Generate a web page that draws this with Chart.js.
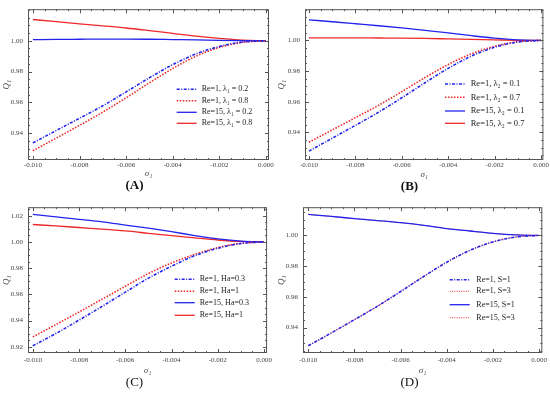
<!DOCTYPE html>
<html>
<head>
<meta charset="utf-8">
<script src="https://cdn.jsdelivr.net/npm/chart.js@4.4.1/dist/chart.umd.min.js"></script>
<style>
  body { margin: 0; background: #fff; }
  #wrap { position: relative; width: 550px; height: 396px; }
  .panel { position: absolute; width: 275px; height: 198px; }
</style>
</head>
<body>
<div id="wrap">
  <div class="panel" style="left:0;top:0"><canvas id="chartA" width="275" height="198"></canvas></div>
  <div class="panel" style="left:275px;top:0"><canvas id="chartB" width="275" height="198"></canvas></div>
  <div class="panel" style="left:0;top:198px"><canvas id="chartC" width="275" height="198"></canvas></div>
  <div class="panel" style="left:275px;top:198px"><canvas id="chartD" width="275" height="198"></canvas></div>
</div>
<script>
// x values shared by every curve
const sigma = [-0.010, -0.009, -0.008, -0.007, -0.006, -0.005, -0.004, -0.003, -0.002, -0.001, 0.000];
const xTicks = [-0.010, -0.008, -0.006, -0.004, -0.002, 0.000];
const yTicksABD = [0.94, 0.96, 0.98, 1.00];
const yTicksC = [0.92, 0.94, 0.96, 0.98, 1.00, 1.02];

// (A) lambda_1
const labelsA = ['Re=1, λ₁ = 0.2', 'Re=1, λ₁ = 0.8', 'Re=15, λ₁ = 0.2', 'Re=15, λ₁ = 0.8'];
const aRe1L02 = [0.9337, 0.9417, 0.9497, 0.9578, 0.9668, 0.9760, 0.9845, 0.9915, 0.9963, 0.9992, 1.0000];
const aRe1L08 = [0.9286, 0.9368, 0.9451, 0.9537, 0.9630, 0.9727, 0.9820, 0.9900, 0.9957, 0.9990, 1.0000];
const aRe15L02 = [1.0007, 1.0009, 1.0010, 1.0011, 1.0011, 1.0010, 1.0008, 1.0006, 1.0003, 1.0001, 1.0000];
const aRe15L08 = [1.0138, 1.0124, 1.0110, 1.0097, 1.0083, 1.0066, 1.0048, 1.0030, 1.0015, 1.0004, 1.0000];

// (B) lambda_2
const labelsB = ['Re=1, λ₂ = 0.1', 'Re=1, λ₂ = 0.7', 'Re=15, λ₂ = 0.1', 'Re=15, λ₂ = 0.7'];
const bRe1L01 = [0.9278, 0.9362, 0.9446, 0.9532, 0.9626, 0.9724, 0.9818, 0.9898, 0.9956, 0.9990, 1.0000];
const bRe1L07 = [0.9336, 0.9416, 0.9496, 0.9577, 0.9666, 0.9758, 0.9843, 0.9913, 0.9962, 0.9992, 1.0000];
const bRe15L01 = [1.0135, 1.0122, 1.0109, 1.0096, 1.0082, 1.0066, 1.0049, 1.0031, 1.0015, 1.0004, 1.0000];
const bRe15L07 = [1.0017, 1.0017, 1.0017, 1.0016, 1.0015, 1.0013, 1.0010, 1.0007, 1.0004, 1.0001, 1.0000];

// (C) Hartmann number
const labelsC = ['Re=1, Ha=0.3', 'Re=1, Ha=1', 'Re=15, Ha=0.3', 'Re=15, Ha=1'];
const cRe1Ha03 = [0.9208, 0.9302, 0.9404, 0.9509, 0.9617, 0.9724, 0.9815, 0.9895, 0.9952, 0.9988, 1.0000];
const cRe1Ha1 = [0.9276, 0.9370, 0.9466, 0.9564, 0.9662, 0.9759, 0.9840, 0.9905, 0.9957, 0.9990, 1.0000];
const cRe15Ha03 = [1.0210, 1.0191, 1.0172, 1.0153, 1.0129, 1.0105, 1.0078, 1.0049, 1.0023, 1.0006, 1.0000];
const cRe15Ha1 = [1.0133, 1.0122, 1.0110, 1.0098, 1.0084, 1.0066, 1.0048, 1.0031, 1.0015, 1.0004, 1.0000];

// (D) S
const labelsD = ['Re=1, S=1', 'Re=1, S=3', 'Re=15, S=1', 'Re=15, S=3'];
const dRe1S1 = [0.9282, 0.9366, 0.9452, 0.9540, 0.9635, 0.9733, 0.9826, 0.9903, 0.9958, 0.9990, 1.0000];
const dRe1S3 = [0.9282, 0.9366, 0.9452, 0.9540, 0.9635, 0.9733, 0.9826, 0.9903, 0.9958, 0.9990, 1.0000];
const dRe15S1 = [1.0137, 1.0124, 1.0110, 1.0097, 1.0083, 1.0066, 1.0045, 1.0029, 1.0014, 1.0004, 1.0000];
const dRe15S3 = [1.0137, 1.0124, 1.0110, 1.0097, 1.0083, 1.0066, 1.0045, 1.0029, 1.0014, 1.0004, 1.0000];

const BLUE = 'rgb(35, 35, 235)';
const RED = 'rgb(238, 40, 40)';
const FONT = "'Liberation Serif', 'DejaVu Serif', serif";
const AXIS_GREY = '#555';

// line styles by legend slot
const styleDashDot = { borderColor: BLUE, borderWidth: 1.6, borderDash: [3, 1.5, 1, 1.5] };
const styleRedDot = { borderColor: RED, borderWidth: 1.6, borderDash: [1.5, 1.5] };
const styleBlueSolid = { borderColor: BLUE, borderWidth: 1.3, borderDash: [] };
const styleRedSolid = { borderColor: RED, borderWidth: 1.3, borderDash: [] };
const styleRedFine = { borderColor: RED, borderWidth: 1, borderDash: [1, 1.3] };

function toPoints(values) {
  return values.map((v, i) => ({ x: sigma[i], y: v }));
}

// frame around the plot with inward major/minor ticks on all four sides
const framePlugin = {
  id: 'frame',
  afterDraw(chart, args, opts) {
    const { ctx, chartArea: a, scales } = chart;
    const x = scales.x, y = scales.y;
    ctx.save();
    ctx.strokeStyle = AXIS_GREY;
    ctx.lineWidth = 1;
    ctx.strokeRect(a.left + 0.5, a.top + 0.5, a.right - a.left - 1, a.bottom - a.top - 1);

    const line = (x1, y1, x2, y2) => {
      ctx.beginPath(); ctx.moveTo(x1, y1); ctx.lineTo(x2, y2); ctx.stroke();
    };
    // x ticks
    const xs = opts.xMinor;
    for (let k = Math.ceil(x.min / xs - 1e-6); k * xs <= x.max + 1e-9; k++) {
      const v = k * xs;
      const major = xTicks.some(t => Math.abs(t - v) < xs / 10);
      const len = major ? 4 : 2;
      const px = Math.round(x.getPixelForValue(v)) + 0.5;
      line(px, a.bottom, px, a.bottom - len);
      line(px, a.top, px, a.top + len);
    }
    // y ticks
    const ys = opts.yMinor;
    for (let k = Math.ceil(y.min / ys - 1e-6); k * ys <= y.max + 1e-9; k++) {
      const v = k * ys;
      const major = opts.yMajor.some(t => Math.abs(t - v) < ys / 10);
      const len = major ? 4 : 2;
      const py = Math.round(y.getPixelForValue(v)) + 0.5;
      line(a.left, py, a.left + len, py);
      line(a.right, py, a.right - len, py);
    }
    ctx.restore();
  }
};

// legend inside the plot, drawn from the dataset styles
const insideLegend = {
  id: 'insideLegend',
  afterDatasetsDraw(chart, args, opts) {
    const { ctx } = chart;
    ctx.save();
    ctx.font = opts.fontSize + 'px ' + FONT;
    ctx.textBaseline = 'middle';
    ctx.fillStyle = '#222';
    chart.data.datasets.forEach((ds, i) => {
      const yy = opts.rows[i];
      ctx.strokeStyle = ds.borderColor;
      ctx.lineWidth = ds.borderWidth;
      ctx.setLineDash(ds.borderDash || []);
      ctx.beginPath();
      ctx.moveTo(opts.lineX, yy);
      ctx.lineTo(opts.lineX + 20, yy);
      ctx.stroke();
      ctx.setLineDash([]);
      ctx.fillText(ds.label, opts.textX, yy);
    });
    ctx.restore();
  }
};

function makeChart(id, cfg) {
  const datasets = cfg.series.map((values, i) => Object.assign({
    label: cfg.labels[i],
    data: toPoints(values),
    pointRadius: 0,
    fill: false,
    cubicInterpolationMode: 'monotone',
  }, cfg.styles[i]));

  return new Chart(document.getElementById(id), {
    type: 'line',
    data: { datasets: datasets },
    plugins: [framePlugin, insideLegend],
    options: {
      responsive: false,
      animation: false,
      layout: { padding: { left: 0, top: cfg.area.top, right: 275 - cfg.area.right, bottom: 0 } },
      plugins: {
        legend: { display: false },
        tooltip: { enabled: false },
        title: {
          display: true,
          position: 'bottom',
          text: cfg.letter,
          color: '#111',
          font: { family: FONT, size: 13, weight: cfg.letterBold ? 'bold' : 'normal', lineHeight: 1.1 },
          padding: { top: cfg.letterPad[0], bottom: cfg.letterPad[1] },
        },
        frame: { xMinor: 0.0005, yMinor: 0.005, yMajor: cfg.yTicks },
        insideLegend: cfg.legend,
      },
      scales: {
        x: {
          type: 'linear',
          min: cfg.xRange[0],
          max: cfg.xRange[1],
          afterBuildTicks: scale => { scale.ticks = xTicks.map(v => ({ value: v })); },
          afterFit: scale => { scale.height = cfg.xAxisHeight; },
          grid: { display: false, drawTicks: false },
          border: { display: false },
          ticks: {
            color: '#444',
            padding: cfg.xTickPad,
            maxRotation: 0,
            font: { family: FONT, size: 7 },
            callback: v => v.toFixed(3),
          },
          title: {
            display: true,
            text: 'σ₁',
            color: '#444',
            font: { family: FONT, size: 9, style: 'italic', lineHeight: 1 },
            padding: 0,
          },
        },
        y: {
          type: 'linear',
          min: cfg.yRange[0],
          max: cfg.yRange[1],
          afterBuildTicks: scale => { scale.ticks = cfg.yTicks.map(v => ({ value: v })); },
          afterFit: scale => { scale.width = cfg.area.left; },
          grid: { display: false, drawTicks: false },
          border: { display: false },
          ticks: {
            color: '#444',
            padding: 5,
            font: { family: FONT, size: 7 },
            callback: v => v.toFixed(2),
          },
          title: {
            display: true,
            text: 'Q₁',
            color: '#444',
            font: { family: FONT, size: 9, style: 'italic', lineHeight: 1 },
            padding: { top: 2, bottom: 0 },
          },
        },
      },
    },
  });
}

makeChart('chartA', {
  labels: labelsA,
  series: [aRe1L02, aRe1L08, aRe15L02, aRe15L08],
  styles: [styleDashDot, styleRedDot, styleBlueSolid, styleRedSolid],
  yTicks: yTicksABD,
  xRange: [-0.01021, 0.00013],
  yRange: [0.9226, 1.0205],
  area: { left: 28, top: 6, right: 269 },
  xAxisHeight: 18, xTickPad: 1,
  letter: '(A)', letterBold: true, letterPad: [0, 5.7],
  legend: { lineX: 176.7, textX: 201.7, fontSize: 8, rows: [89.3, 100.7, 112.3, 123.3] },
});

makeChart('chartB', {
  labels: labelsB,
  series: [bRe1L01, bRe1L07, bRe15L01, bRe15L07],
  styles: [styleDashDot, styleRedDot, styleBlueSolid, styleRedSolid],
  yTicks: yTicksABD,
  xRange: [-0.01017, 0.0001],
  yRange: [0.9220, 1.0204],
  area: { left: 30, top: 6, right: 269 },
  xAxisHeight: 19, xTickPad: 1,
  letter: '(B)', letterBold: true, letterPad: [0, 4.7],
  legend: { lineX: 170, textX: 195.7, fontSize: 8.5, rows: [84, 97.3, 111, 123.3] },
});

makeChart('chartC', {
  labels: labelsC,
  series: [cRe1Ha03, cRe1Ha1, cRe15Ha03, cRe15Ha1],
  styles: [styleDashDot, styleRedDot, styleBlueSolid, styleRedSolid],
  yTicks: yTicksC,
  xRange: [-0.01021, 0.00013],
  yRange: [0.9153, 1.0265],
  area: { left: 28, top: 5, right: 269 },
  xAxisHeight: 22, xTickPad: 3,
  letter: '(C)', letterBold: false, letterPad: [0.5, 6.2],
  legend: { lineX: 174.7, textX: 199.7, fontSize: 8, rows: [81.3, 93.3, 104.7, 117.3] },
});

makeChart('chartD', {
  labels: labelsD,
  series: [dRe1S1, dRe1S3, dRe15S1, dRe15S3],
  styles: [styleDashDot, styleRedFine, styleBlueSolid, styleRedFine],
  yTicks: yTicksABD,
  xRange: [-0.01023, 0.00014],
  yRange: [0.9235, 1.0184],
  area: { left: 28, top: 5, right: 269 },
  xAxisHeight: 22, xTickPad: 3,
  letter: '(D)', letterBold: false, letterPad: [0.5, 6.2],
  legend: { lineX: 174.7, textX: 201.3, fontSize: 8, rows: [81.7, 93.3, 106.7, 119.7] },
});
</script>
</body>
</html>
